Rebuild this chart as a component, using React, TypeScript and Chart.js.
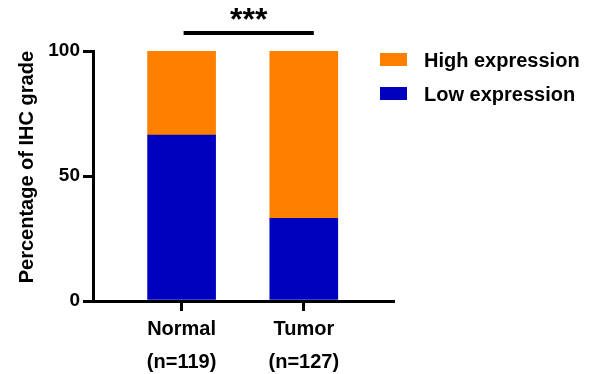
import React, { useEffect, useRef } from "react";
import { Chart, registerables } from "chart.js";

Chart.register(...registerables);

const categories: string[][] = [
  ["Normal", "(n=119)"],
  ["Tumor", "(n=127)"],
];
const categoryPositions = [1, 2];
const lowExpression = [66.4, 33.1];
const highExpression = [33.6, 66.9];
const seriesNames = ["Low expression", "High expression"];
const seriesColors = ["#0000BF", "#FF8000"];
const yTicks = [0, 50, 100];
const yTitle = "Percentage of IHC grade";
const significance = "***";

const FONT = "'Liberation Sans', Arial, sans-serif";

const annotationPlugin = {
  id: "annotations",
  afterDraw(chart: any) {
    const ctx = chart.ctx;
    const xs = chart.scales.x;
    const ys = chart.scales.y;
    ctx.save();
    // significance bracket
    const x1 = xs.getPixelForValue(categoryPositions[0]) + 2;
    const x2 = xs.getPixelForValue(categoryPositions[1]) + 10;
    const yLine = ys.getPixelForValue(100) - 18;
    ctx.strokeStyle = "#000";
    ctx.lineWidth = 4;
    ctx.beginPath();
    ctx.moveTo(x1, yLine);
    ctx.lineTo(x2, yLine);
    ctx.stroke();
    ctx.fillStyle = "#000";
    ctx.font = `bold 32px ${FONT}`;
    ctx.textAlign = "center";
    ctx.textBaseline = "middle";
    ctx.fillText(significance, (x1 + x2) / 2, yLine - 12);

    // legend (reverse order: top series first)
    const ds = chart.data.datasets.slice().reverse();
    const lx = 380;
    let ly = 53;
    ctx.font = `bold 20px ${FONT}`;
    ctx.textAlign = "left";
    ds.forEach((d: any) => {
      ctx.fillStyle = d.backgroundColor;
      ctx.fillRect(lx, ly, 27, 13);
      ctx.fillStyle = "#000";
      ctx.fillText(d.label, 424, ly + 8);
      ly += 34;
    });
    ctx.restore();
  },
};

export default function App() {
  const ref = useRef<HTMLCanvasElement | null>(null);
  useEffect(() => {
    document.body.style.margin = "0";
    if (!ref.current) return;
    const chart = new Chart(ref.current, {
      type: "bar",
      data: {
        datasets: [
          {
            label: seriesNames[0],
            data: categoryPositions.map((x, i) => ({ x, y: lowExpression[i] })),
            backgroundColor: seriesColors[0],
            barThickness: 68,
          },
          {
            label: seriesNames[1],
            data: categoryPositions.map((x, i) => ({ x, y: highExpression[i] })),
            backgroundColor: seriesColors[1],
            barThickness: 68,
          },
        ],
      },
      options: {
        responsive: false,
        animation: false,
        layout: { padding: { left: 0, right: 199, top: 51, bottom: 0 } },
        plugins: { legend: { display: false }, tooltip: { enabled: false } },
        scales: {
          x: {
            type: "linear",
            stacked: true,
            offset: false,
            min: 0.275,
            max: 2.73,
            afterBuildTicks: (scale: any) => {
              scale.ticks = categoryPositions.map((v) => ({ value: v }));
            },
            afterFit: (scale: any) => {
              scale.height = 73;
            },
            ticks: {
              autoSkip: false,
              maxRotation: 0,
              color: "#000",
              font: { family: FONT, size: 20, weight: "bold", lineHeight: 1.65 },
              padding: 2,
              callback: (v: any) => {
                const i = categoryPositions.indexOf(Number(v));
                return i >= 0 ? categories[i] : "";
              },
            },
            grid: { offset: false, drawOnChartArea: false, color: "#000", lineWidth: 3, tickLength: 10 },
            border: { display: true, color: "#000", width: 3 },
          },
          y: {
            stacked: true,
            min: 0,
            max: 100,
            afterBuildTicks: (scale: any) => {
              scale.ticks = yTicks.map((v) => ({ value: v }));
            },
            afterFit: (scale: any) => {
              scale.width = 93;
            },
            ticks: {
              color: "#000",
              font: { family: FONT, size: 19, weight: "bold" },
              padding: 3,
            },
            grid: { drawOnChartArea: false, color: "#000", lineWidth: 3, tickLength: 10 },
            border: { display: true, color: "#000", width: 3 },
            title: {
              display: true,
              text: yTitle,
              align: "end",
              color: "#000",
              font: { family: FONT, size: 20, weight: "bold" },
              padding: { top: 15, bottom: 0 },
            },
          },
        },
      },
      plugins: [annotationPlugin],
    });
    return () => chart.destroy();
  }, []);
  return (
    <div style={{ width: 592, height: 374 }}>
      <canvas ref={ref} width={592} height={374} style={{ display: "block" }} />
    </div>
  );
}
